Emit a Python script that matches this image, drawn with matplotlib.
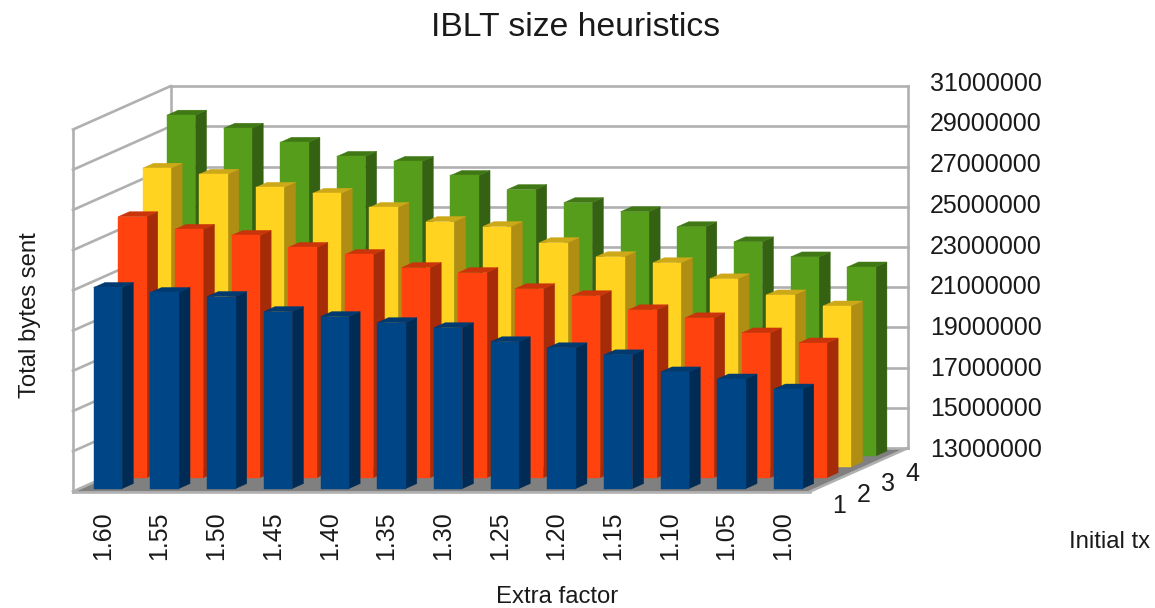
import matplotlib
matplotlib.use("Agg")
import matplotlib.pyplot as plt

plt.rcParams["font.family"] = ["Liberation Sans", "DejaVu Sans"]

# Total bytes sent, in millions, per extra factor and initial tx count
extra_factor = ["1.60", "1.55", "1.50", "1.45", "1.40", "1.35", "1.30",
                "1.25", "1.20", "1.15", "1.10", "1.05", "1.00"]
initial_tx = ["1", "2", "3", "4"]
tx1 = [23.0, 22.75, 22.55, 21.8, 21.55, 21.25, 21.0, 20.3, 20.0, 19.65, 18.8, 18.45, 17.95]
tx2 = [25.98, 25.35, 25.05, 24.45, 24.1, 23.45, 23.2, 22.4, 22.05, 21.35, 20.95, 20.2, 19.7]
tx3 = [27.85, 27.55, 26.9, 26.6, 25.9, 25.2, 24.95, 24.15, 23.45, 23.15, 22.35, 21.55, 21.0]
tx4 = [29.95, 29.3, 28.6, 27.9, 27.65, 26.95, 26.25, 25.6, 25.15, 24.4, 23.65, 22.9, 22.4]
value_ticks = [13, 15, 17, 19, 21, 23, 25, 27, 29, 31]

series = [tx1, tx2, tx3, tx4]
front_colors = ["#004586", "#ff420e", "#ffd320", "#579d1c"]
side_colors = ["#002b54", "#a62b09", "#b08e14", "#356112"]
top_colors = ["#003a70", "#c9340b", "#cda91a", "#3f7814"]

W, H = 1155, 608
PX_PER_CAT = 56.7
PX_PER_VAL = 20.11
ORIGIN_X, ORIGIN_Y = 73.0, 491.5
SHEAR_X = 24.4 / PX_PER_CAT
SHEAR_Y = 10.85 / PX_PER_VAL
BASE = value_ticks[0]
TOP = value_ticks[-1]
GRID = "#b0b0b0"
TEXT = "#1a1a1a"


def project(cat, depth, val):
    """Oblique projection of (category, series depth, value) onto the axes plane."""
    return cat + depth * SHEAR_X, val + depth * SHEAR_Y


def face(points, color, zorder):
    xs, ys = zip(*[project(*p) for p in points])
    ax.fill(xs, ys, color=color, lw=0.3, zorder=zorder)


def line(a, b, lw=1.9, zorder=1):
    (x0, y0), (x1, y1) = project(*a), project(*b)
    ax.plot([x0, x1], [y0, y1], color=GRID, lw=lw, zorder=zorder, solid_capstyle="projecting")


def place_text(px, py, label, **kwargs):
    """Place a label at a figure position given in pixels from the top left."""
    x = (px - ORIGIN_X) / PX_PER_CAT
    y = BASE + (ORIGIN_Y - py) / PX_PER_VAL
    ax.text(x, y, label, color=TEXT, **kwargs)


fig = plt.figure(figsize=(W / 100, H / 100), dpi=100)
ax = fig.add_axes([0, 0, 1, 1])
ax.set_xlim(-ORIGIN_X / PX_PER_CAT, (W - ORIGIN_X) / PX_PER_CAT)
ax.set_ylim(BASE - (H - ORIGIN_Y) / PX_PER_VAL, BASE + ORIGIN_Y / PX_PER_VAL)
ax.axis("off")

n_cat = len(extra_factor)
n_ser = len(series)

# Walls and floor
face([(0, 0, BASE), (n_cat, 0, BASE), (n_cat, n_ser, BASE), (0, n_ser, BASE)], "#808080", 0.5)
for v in value_ticks:
    line((0, 0, v), (0, n_ser, v))
    line((0, n_ser, v), (n_cat, n_ser, v))
line((0, 0, BASE), (0, 0, TOP))
line((0, n_ser, BASE), (0, n_ser, TOP))
line((n_cat, n_ser, BASE), (n_cat, n_ser, TOP))
line((0, 0, BASE), (n_cat, 0, BASE), zorder=0.8)
line((n_cat, 0, BASE), (n_cat, n_ser, BASE), zorder=0.8)

# Bars, drawn from the back row to the front row
BAR_C = 0.25
BAR_D = 0.27
z = 2.0
for s in range(n_ser - 1, -1, -1):
    for c, v in enumerate(series[s]):
        x0, x1 = c + BAR_C, c + 1 - BAR_C
        d0, d1 = s + BAR_D, s + 1 - BAR_D
        face([(x1, d0, BASE), (x1, d1, BASE), (x1, d1, v), (x1, d0, v)], side_colors[s], z)
        face([(x0, d0, v), (x1, d0, v), (x1, d1, v), (x0, d1, v)], top_colors[s], z)
        face([(x0, d0, BASE), (x1, d0, BASE), (x1, d0, v), (x0, d0, v)], front_colors[s], z)
        z += 0.001

# Value axis labels on the right of the back wall; their spacing is slightly wider than the grid
for v in value_ticks:
    x, y = project(n_cat, n_ser, v)
    shift = -2.0 + 4.5 * (v - BASE) / (TOP - BASE)
    ax.text(x + 22 / PX_PER_CAT, y + shift / PX_PER_VAL, f"{v * 1000000:d}", ha="left", va="center",
            fontsize=18, color=TEXT)

# Category labels below the front edge
for c, lab in enumerate(extra_factor):
    x, y = project(c + 0.5, 0, BASE)
    ax.text(x + 1.5 / PX_PER_CAT, y - 20 / PX_PER_VAL, lab, rotation=90, ha="center", va="top",
            fontsize=18, color=TEXT)

# Depth axis labels along the right floor edge
for s, lab in enumerate(initial_tx):
    x, y = project(n_cat, s + 0.5, BASE)
    ax.text(x + 16.5 / PX_PER_CAT, y - 20 / PX_PER_VAL, lab, ha="center", va="center",
            fontsize=18, color=TEXT)

place_text(575.5, 27, "IBLT size heuristics", ha="center", va="center", fontsize=24.3)
place_text(557, 597, "Extra factor", ha="center", va="center", fontsize=17.2)
place_text(1110, 542, "Initial tx", ha="center", va="center", fontsize=17.2)
place_text(30, 315, "Total bytes sent", rotation=90, ha="center", va="center", fontsize=17.2)

fig.savefig("out.png", dpi=100, facecolor="white")
